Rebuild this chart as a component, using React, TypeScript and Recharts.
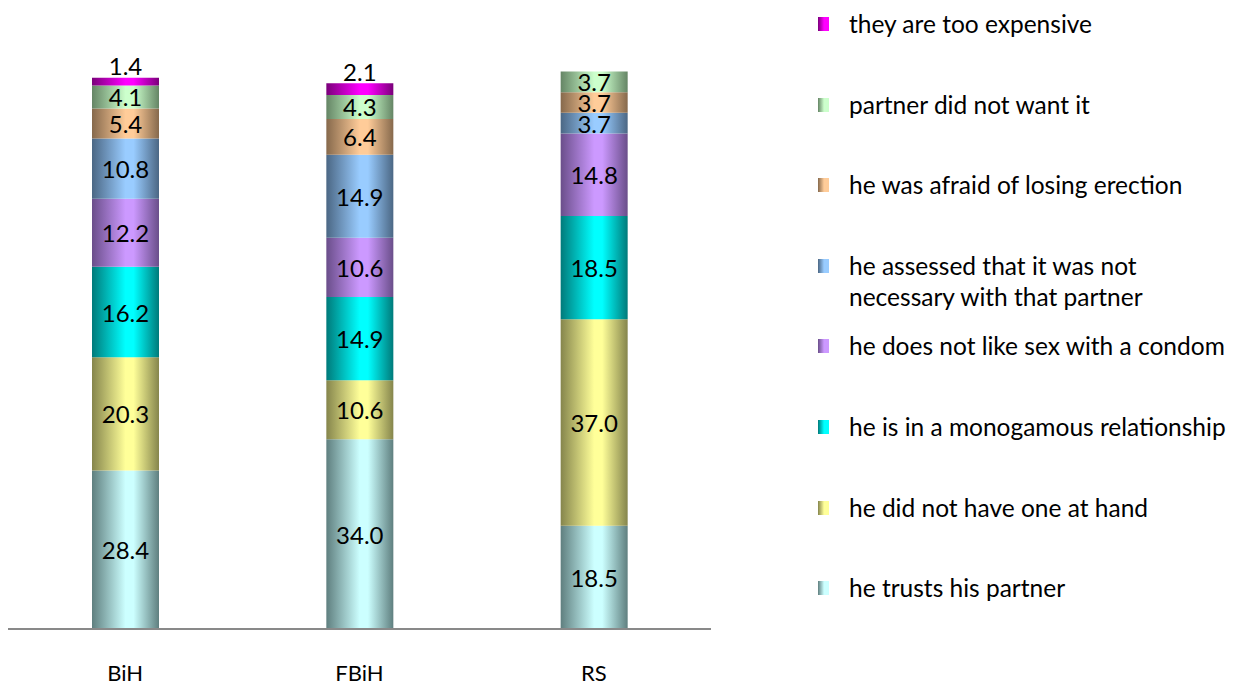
import { BarChart, Bar, XAxis, YAxis, LabelList } from "recharts";

const categories = ["BiH", "FBiH", "RS"];

const trusts = [28.4, 34.0, 18.5];
const noHand = [20.3, 10.6, 37.0];
const monogamous = [16.2, 14.9, 18.5];
const dislike = [12.2, 10.6, 14.8];
const assessed = [10.8, 14.9, 3.7];
const afraid = [5.4, 6.4, 3.7];
const partner = [4.1, 4.3, 3.7];
const expensive: (number | null)[] = [1.4, 2.1, null];

// stack order bottom -> top
const series = [
  { key: "trusts", name: "he trusts his partner", values: trusts, light: "#ccffff", dark: "#5f7f7f" },
  { key: "noHand", name: "he did not have one at hand", values: noHand, light: "#ffff99", dark: "#85854c" },
  { key: "monogamous", name: "he is in a monogamous relationship", values: monogamous, light: "#00ffff", dark: "#007a7a" },
  { key: "dislike", name: "he does not like sex with a condom", values: dislike, light: "#cc99ff", dark: "#6a4e8a" },
  { key: "assessed", name: "he assessed that it was not\nnecessary with that partner", values: assessed, light: "#99ccff", dark: "#4b6784" },
  { key: "afraid", name: "he was afraid of losing erection", values: afraid, light: "#ffcc99", dark: "#86694c" },
  { key: "partner", name: "partner did not want it", values: partner, light: "#ccffcc", dark: "#658565" },
  { key: "expensive", name: "they are too expensive", values: expensive, light: "#ff00ff", dark: "#7a007a" },
];

const data = categories.map((c, i) => {
  const row: Record<string, string | number | null> = { cat: c };
  series.forEach((s) => (row[s.key] = s.values[i]));
  return row;
});

const FONT = "Lato, 'Liberation Sans', sans-serif";

const makeLabel = (above: boolean) => (props: any) => {
  const { x, y, width, height, value } = props;
  if (value === null || value === undefined) return null;
  const cx = Number(x) + Number(width) / 2;
  const cy = above ? Number(y) - 12 : Number(y) + Number(height) / 2;
  return (
    <text x={cx} y={cy} textAnchor="middle" dominantBaseline="central" fontSize={24} fontFamily={FONT} fill="#000">
      {Number(value).toFixed(1)}
    </text>
  );
};

const CatTick = ({ x, y, payload }: any) => (
  <text x={x} y={y} dy={41} textAnchor="middle" dominantBaseline="central" fontSize={22} fontFamily={FONT} fill="#000">
    {payload.value}
  </text>
);

export default function App() {
  return (
    <div style={{ position: "relative", width: 1232, height: 674, fontFamily: FONT }}>
      <BarChart
        width={720}
        height={684}
        data={data}
        margin={{ top: 63, right: 17, bottom: 13, left: 0 }}
        barSize={67}
      >
        <defs>
          {series.map((s) => (
            <linearGradient key={s.key} id={`g-${s.key}`} x1="0" y1="0" x2="1" y2="0">
              <stop offset="0%" stopColor={s.dark} />
              <stop offset="50%" stopColor={s.light} />
              <stop offset="62%" stopColor={s.light} />
              <stop offset="100%" stopColor={s.dark} />
            </linearGradient>
          ))}
        </defs>
        <XAxis
          dataKey="cat"
          axisLine={{ stroke: "#898989", strokeWidth: 2 }}
          tickLine={false}
          tickSize={0}
          height={50}
          tick={<CatTick />}
        />
        <YAxis hide domain={[0, 100]} />
        {series.map((s) => (
          <Bar key={s.key} dataKey={s.key} name={s.name} stackId="a" fill={`url(#g-${s.key})`} isAnimationActive={false}>
            <LabelList dataKey={s.key} content={makeLabel(s.key === "expensive")} />
          </Bar>
        ))}
      </BarChart>
      <div style={{ position: "absolute", left: 810, top: 0, width: 430 }}>
        {[...series].reverse().map((s) => (
          <div key={s.key} style={{ height: 80.6, display: "flex", alignItems: "flex-start" }}>
            <div
              style={{
                width: 11,
                height: 14,
                marginTop: 9,
                flexShrink: 0,
                background: `linear-gradient(to right, ${s.dark}, ${s.light} 55%, ${s.light})`,
              }}
            />
            <div style={{ marginLeft: 20, fontSize: 24.5, lineHeight: "31px", color: "#000", whiteSpace: "pre" }}>{s.name}</div>
          </div>
        ))}
      </div>
    </div>
  );
}
